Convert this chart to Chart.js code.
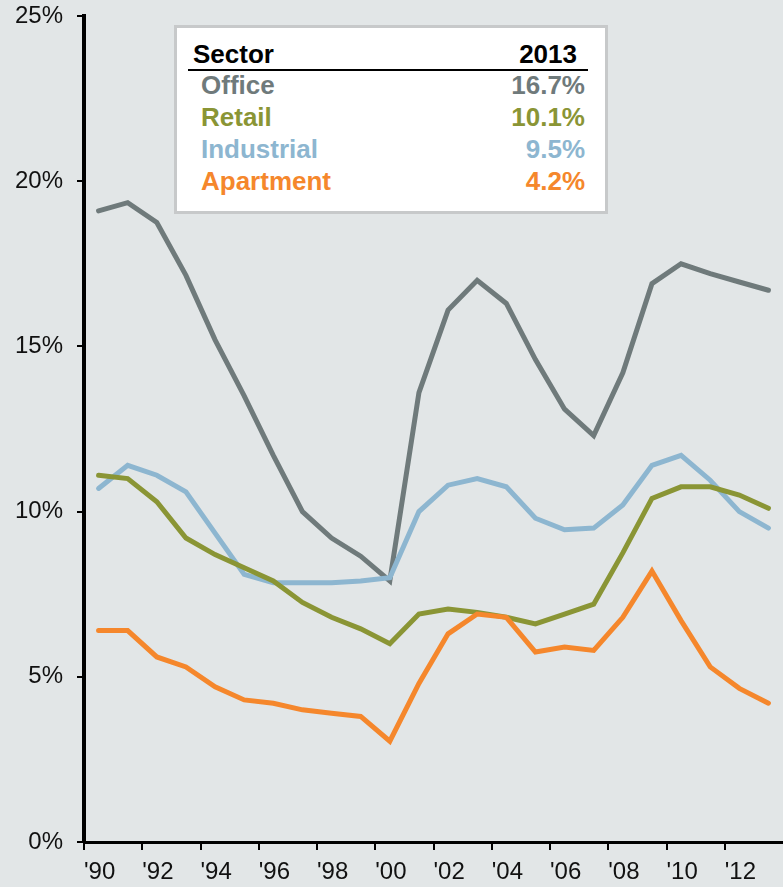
<!DOCTYPE html>
<html>
<head>
<meta charset="utf-8">
<script src="https://cdn.jsdelivr.net/npm/chart.js@4/dist/chart.umd.min.js"></script>
<style>
  html, body { margin: 0; padding: 0; background: #e2e6e7; }
  #wrap { position: relative; width: 783px; height: 887px; }
  #chart { position: absolute; left: 0; top: 0; }
  #key {
    position: absolute; left: 174px; top: 25px; width: 428px; height: 183px;
    background: #fff; border: 3px solid #c7c9ca;
  }
  .t {
    position: absolute; font-family: "Liberation Sans", Arial, sans-serif;
    font-weight: bold; font-size: 26px; line-height: 26px; white-space: nowrap;
  }
  #rule { position: absolute; left: 188px; top: 69px; width: 400px; height: 2px; background: #000; }
</style>
</head>
<body>
<div id="wrap">
  <canvas id="chart" width="783" height="887"></canvas>
  <div id="key"></div>
  <div id="rule"></div>
  <div id="rows"></div>
</div>
<script>
// years run 1990..2013, one value per year
const years = [1990, 1991, 1992, 1993, 1994, 1995, 1996, 1997, 1998, 1999, 2000, 2001,
               2002, 2003, 2004, 2005, 2006, 2007, 2008, 2009, 2010, 2011, 2012, 2013];
const office     = [19.1, 19.35, 18.75, 17.15, 15.2, 13.5, 11.7, 10.0, 9.2, 8.65, 7.9, 13.6,
                    16.1, 17.0, 16.3, 14.6, 13.1, 12.3, 14.2, 16.9, 17.5, 17.2, 16.95, 16.7];
const retail     = [11.1, 11.0, 10.3, 9.2, 8.7, 8.3, 7.9, 7.25, 6.8, 6.45, 6.0, 6.9,
                    7.05, 6.95, 6.8, 6.6, 6.9, 7.2, 8.75, 10.4, 10.75, 10.75, 10.5, 10.1];
const industrial = [10.7, 11.4, 11.1, 10.6, 9.35, 8.1, 7.85, 7.85, 7.85, 7.9, 8.0, 10.0,
                    10.8, 11.0, 10.75, 9.8, 9.45, 9.5, 10.2, 11.4, 11.7, 10.95, 10.0, 9.5];
const apartment  = [6.4, 6.4, 5.6, 5.3, 4.7, 4.3, 4.2, 4.0, 3.9, 3.8, 3.05, 4.8,
                    6.3, 6.9, 6.8, 5.75, 5.9, 5.8, 6.8, 8.2, 6.7, 5.3, 4.65, 4.2];

const tickYears = [1990, 1992, 1994, 1996, 1998, 2000, 2002, 2004, 2006, 2008, 2010, 2012];
const tickLabels = ["'90", "'92", "'94", "'96", "'98", "'00", "'02", "'04", "'06", "'08", "'10", "'12"];
const yTicks = [0, 5, 10, 15, 20, 25];

// legend table
const sectors = ['Office', 'Retail', 'Industrial', 'Apartment'];
const latest = ['16.7%', '10.1%', '9.5%', '4.2%'];
const colors = ['#6f7a7b', '#8a9535', '#8db6d0', '#f5872c'];

function pts(arr) {
    // points sit in the middle of each year
    return arr.map((v, i) => ({ x: years[i] + 0.5, y: v }));
}

// build the key as real text
const rows = document.getElementById('rows');
function addText(txt, left, right, top, color) {
    const s = document.createElement('div');
    s.className = 't';
    s.textContent = txt;
    s.style.top = top + 'px';
    s.style.color = color;
    if (left !== null) s.style.left = left + 'px';
    if (right !== null) { s.style.right = right + 'px'; s.style.textAlign = 'right'; }
    rows.appendChild(s);
}
addText('Sector', 193, null, 41, '#000');
addText('2013', null, 783 - 577, 41, '#000');
sectors.forEach((name, i) => {
    addText(name, 201, null, 72 + i * 32, colors[i]);
    addText(latest[i], null, 783 - 585, 72 + i * 32, colors[i]);
});

const series = [
    { label: 'Apartment', data: apartment, color: colors[3] },
    { label: 'Retail', data: retail, color: colors[1] },
    { label: 'Industrial', data: industrial, color: colors[2] },
    { label: 'Office', data: office, color: colors[0] }
];

const tickFont = { family: 'Liberation Sans, Arial, sans-serif', size: 24 };

const ctx = document.getElementById('chart').getContext('2d');
new Chart(ctx, {
    type: 'line',
    data: {
        datasets: series.map(s => ({
            label: s.label,
            data: pts(s.data),
            borderColor: s.color,
            borderWidth: 5,
            borderCapStyle: 'round',
            pointRadius: 0,
            fill: false,
            tension: 0
        }))
    },
    options: {
        responsive: false,
        animation: false,
        layout: { padding: { top: 16, right: 0, left: 0, bottom: 0 } },
        plugins: { legend: { display: false }, tooltip: { enabled: false } },
        scales: {
            x: {
                type: 'linear',
                min: 1990,
                max: 2014,
                afterFit: s => { s.height = 45; s.paddingLeft = 0; s.paddingRight = 0; },
                afterBuildTicks: s => { s.ticks = tickYears.map(v => ({ value: v })); },
                border: { display: true, color: '#000', width: 3 },
                grid: { drawOnChartArea: false, drawTicks: true, tickLength: 8, color: '#000', lineWidth: 2 },
                ticks: {
                    align: 'start',
                    padding: 8,
                    color: '#111',
                    font: tickFont,
                    callback: v => tickLabels[tickYears.indexOf(v)]
                }
            },
            y: {
                min: 0,
                max: 25,
                afterFit: s => { s.width = 84; s.paddingTop = 0; s.paddingBottom = 0; },
                afterBuildTicks: s => { s.ticks = yTicks.map(v => ({ value: v })); },
                border: { display: true, color: '#000', width: 4 },
                grid: { drawOnChartArea: false, drawTicks: true, tickLength: 7, color: '#000', lineWidth: 2 },
                ticks: {
                    padding: 14,
                    color: '#111',
                    font: tickFont,
                    callback: v => v + '%'
                }
            }
        }
    }
});
</script>
</body>
</html>
